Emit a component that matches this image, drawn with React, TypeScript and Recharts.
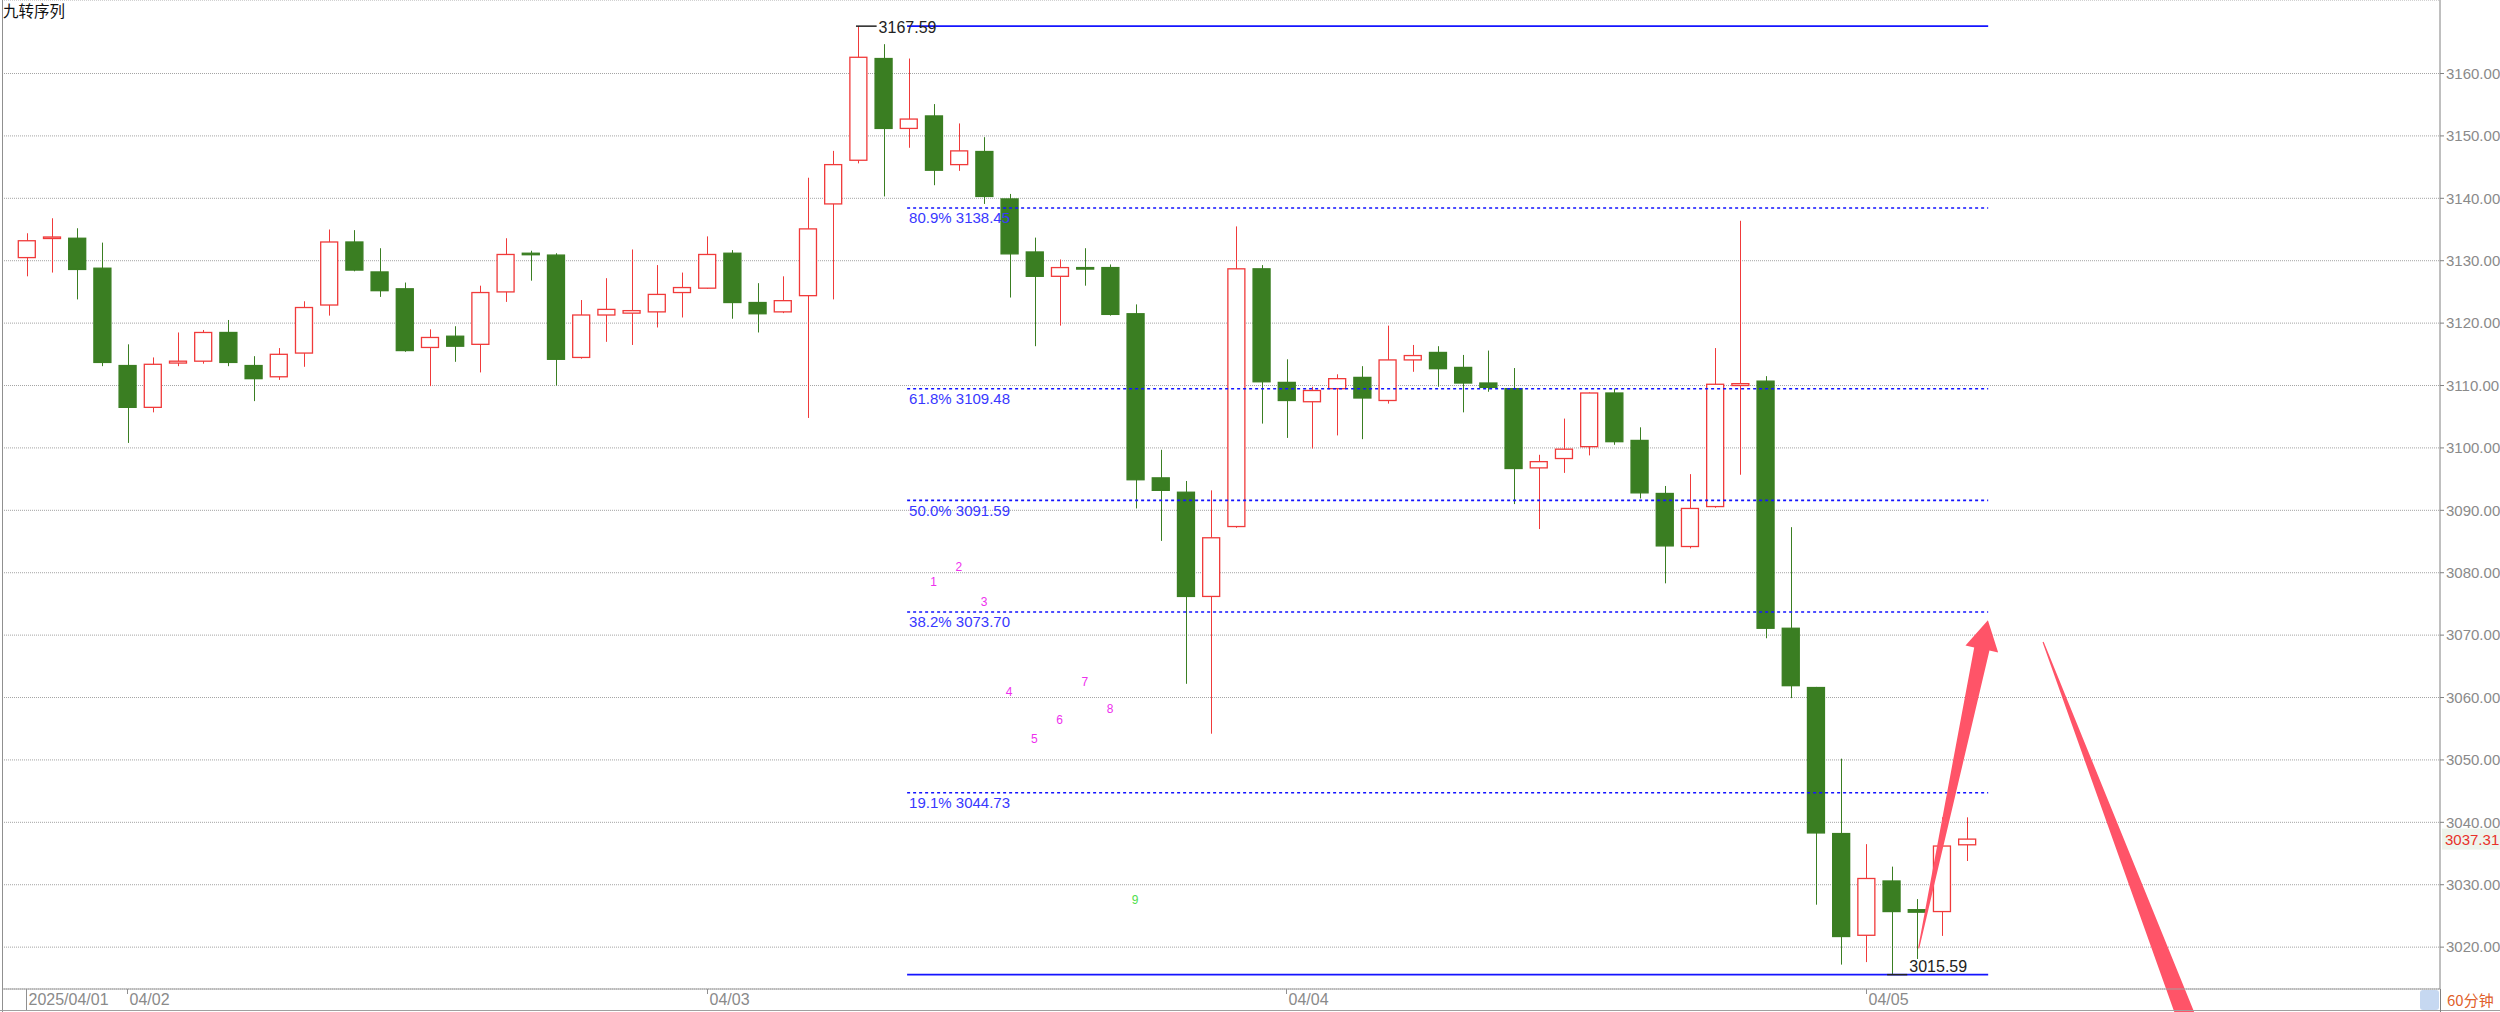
import React from 'react';
import { ComposedChart, Bar, Scatter, XAxis, YAxis, CartesianGrid, ReferenceLine } from 'recharts';

// 60-minute candles
const opens = [
  3130.5, 3133.6, 3133.6, 3128.8, 3113.2, 3106.5, 3113.6, 3113.9, 3118.5, 3113.2,
  3111.4, 3115.2, 3122.9, 3133.0, 3128.2, 3125.5, 3116.1, 3117.9, 3116.6, 3125.0,
  3131.2, 3130.9, 3114.5, 3121.3, 3121.6, 3121.8, 3124.9, 3125.6, 3131.2, 3123.3,
  3121.8, 3124.4, 3139.1, 3146.1, 3162.4, 3151.2, 3153.2, 3145.4, 3147.5, 3139.9,
  3131.4, 3127.5, 3128.9, 3128.9, 3121.5, 3095.2, 3092.9, 3076.2, 3087.4, 3128.7,
  3110.5, 3107.4, 3109.5, 3111.3, 3107.6, 3114.1, 3115.3, 3112.9, 3110.4, 3109.5,
  3096.8, 3098.3, 3100.2, 3108.8, 3101.2, 3092.7, 3084.2, 3090.6, 3110.0, 3110.7,
  3071.1, 3061.6, 3038.2, 3021.9, 3030.6, 3026.0, 3025.7, 3036.4,
];
const highs = [
  3134.4, 3136.8, 3135.2, 3132.9, 3116.6, 3114.5, 3118.5, 3118.9, 3120.5, 3114.7,
  3116.0, 3123.5, 3135.0, 3134.9, 3132.0, 3126.5, 3119.0, 3119.5, 3126.0, 3133.6,
  3131.6, 3131.2, 3123.7, 3127.2, 3131.8, 3129.3, 3128.1, 3133.9, 3131.7, 3126.4,
  3127.5, 3143.3, 3147.6, 3167.59, 3164.7, 3162.4, 3155.1, 3152.0, 3149.8, 3140.7,
  3133.7, 3130.2, 3132.0, 3129.4, 3123.0, 3099.7, 3094.7, 3093.2, 3135.5, 3129.3,
  3114.2, 3109.8, 3111.8, 3113.1, 3119.6, 3116.5, 3116.3, 3114.9, 3115.6, 3112.8,
  3098.9, 3104.7, 3108.9, 3109.5, 3103.3, 3093.9, 3095.8, 3116.0, 3136.4, 3111.5,
  3087.3, 3061.7, 3050.2, 3036.5, 3032.9, 3027.7, 3040.8, 3040.8,
];
const lows = [
  3127.5, 3128.1, 3123.8, 3113.1, 3100.8, 3105.7, 3113.1, 3113.5, 3113.1, 3107.5,
  3110.9, 3113.0, 3121.2, 3128.3, 3124.2, 3115.4, 3109.9, 3113.8, 3112.1, 3123.4,
  3126.8, 3110.0, 3114.3, 3117.0, 3116.5, 3119.3, 3120.9, 3125.5, 3120.7, 3118.5,
  3121.6, 3104.8, 3123.8, 3145.6, 3140.3, 3148.1, 3142.1, 3144.4, 3139.1, 3124.1,
  3116.3, 3119.6, 3126.0, 3121.2, 3090.3, 3085.1, 3062.2, 3054.2, 3087.2, 3103.9,
  3101.6, 3099.9, 3102.0, 3101.4, 3107.1, 3112.2, 3109.8, 3105.7, 3109.0, 3091.0,
  3087.0, 3096.0, 3098.8, 3100.5, 3091.9, 3078.3, 3083.9, 3090.4, 3095.7, 3069.5,
  3059.9, 3026.8, 3017.2, 3017.6, 3015.59, 3018.1, 3021.8, 3033.8,
];
const closes = [
  3133.2, 3133.8, 3128.6, 3113.7, 3106.5, 3113.4, 3113.9, 3118.5, 3113.7, 3111.1,
  3115.0, 3122.5, 3133.0, 3128.5, 3125.2, 3115.6, 3117.7, 3116.3, 3124.9, 3131.0,
  3131.0, 3114.2, 3121.3, 3122.2, 3122.0, 3124.6, 3125.7, 3131.0, 3123.3, 3121.5,
  3123.6, 3135.1, 3145.4, 3162.6, 3151.2, 3152.7, 3144.5, 3147.6, 3140.3, 3131.1,
  3127.5, 3128.9, 3128.7, 3121.4, 3094.9, 3093.2, 3076.2, 3085.6, 3128.7, 3110.6,
  3107.6, 3109.2, 3111.1, 3108.0, 3114.1, 3114.8, 3112.7, 3110.4, 3109.7, 3096.7,
  3097.8, 3099.8, 3108.8, 3101.0, 3092.8, 3084.3, 3090.3, 3110.2, 3110.3, 3071.1,
  3061.9, 3038.3, 3021.7, 3031.0, 3025.7, 3025.6, 3036.2, 3037.31,
];

const dayTicks = [0, 4, 27, 50, 73];
const dayLabels = ['2025/04/01', '04/02', '04/03', '04/04', '04/05'];
const priceTicks = [3020, 3030, 3040, 3050, 3060, 3070, 3080, 3090, 3100, 3110, 3120, 3130, 3140, 3150, 3160];

const swingHigh = 3167.59;
const swingHighBar = 33;
const swingLow = 3015.59;
const swingLowBar = 74;
const fibNames = ['80.9%', '61.8%', '50.0%', '38.2%', '19.1%'];
const fibLevels = [3138.45, 3109.48, 3091.59, 3073.7, 3044.73];

// 九转序列 counts
const seqBars = [36, 37, 38, 39, 40, 41, 42, 43, 44];
const seqPrices = [3078.6, 3081.0, 3075.4, 3061.0, 3053.4, 3056.5, 3062.6, 3058.3, 3027.7];
const seqLabels = ['1', '2', '3', '4', '5', '6', '7', '8', '9'];

const lastPrice = 3037.31;

const candles = opens.map((o, i) => ({
  i,
  open: o,
  high: highs[i],
  low: lows[i],
  close: closes[i],
  range: [lows[i], highs[i]],
}));
const seqData = seqBars.map((b, k) => ({ i: b, price: seqPrices[k], text: seqLabels[k] }));

const X_MIN = -0.968;
const X_MAX = 95.78;
const Y_MIN = 3013.29;
const Y_MAX = 3171.78;
const FIB_START = 34.95;
const FIB_END = 77.85;

const RED = '#f03a3a';
const GREEN = '#3a7e22';
const ARROW = '#ff5468';
const FONT = '"Liberation Sans", Arial, sans-serif';
const CJK = '"Noto Sans CJK SC", sans-serif';

function Candle(props: any) {
  const { x, y, width, height } = props;
  const d = props.payload ?? props;
  const up = d.close >= d.open;
  const color = up ? RED : GREEN;
  const k = height / (d.high - d.low || 1);
  const py = (p: number) => y + (d.high - p) * k;
  const top = py(Math.max(d.open, d.close));
  const bot = py(Math.min(d.open, d.close));
  const cx = Math.round(x + width / 2) + 0.5;
  return (
    <g>
      <line x1={cx} x2={cx} y1={y} y2={y + height} stroke={color} strokeWidth={1} />
      <rect
        x={x + 0.5}
        y={top}
        width={width - 1}
        height={Math.max(bot - top, 1.5)}
        fill={up ? '#ffffff' : color}
        stroke={color}
        strokeWidth={1.3}
      />
    </g>
  );
}

function SeqLabel(props: any) {
  const { cx, cy, payload } = props;
  return (
    <text x={cx} y={cy + 4.5} textAnchor="middle" fontSize={12} fontFamily={FONT}
      fill={payload.text === '9' ? '#4ee04e' : '#ee30ee'}>
      {payload.text}
    </text>
  );
}

function DayTick(props: any) {
  const { x, y, payload } = props;
  const idx = dayTicks.indexOf(payload.value);
  const px = Math.round(x) + 0.5;
  return (
    <g>
      <line x1={px} x2={px} y1={y} y2={y + (idx === 0 ? 22 : 5)} stroke="#909090" />
      <text x={px + 2} y={y + 16} fontSize={16} fontFamily={FONT} fill="#8a8a8a">
        {dayLabels[idx]}
      </text>
    </g>
  );
}

const fibShape = (text: string) => (p: any) => (
  <g>
    <line x1={p.x1} y1={p.y1} x2={p.x2} y2={p.y2} stroke="#1414ff" strokeWidth={1.6} strokeDasharray="3 3" />
    <text x={Math.min(p.x1, p.x2) + 2} y={p.y1 + 15.4} fontSize={15} fontFamily={FONT} fill="#3838ff">{text}</text>
  </g>
);

const swingLine = (p: any) => (
  <line x1={p.x1} y1={p.y1} x2={p.x2} y2={p.y2} stroke="#1414ff" strokeWidth={1.6} />
);

const swingTag = (text: string, dy: number) => (p: any) => (
  <g>
    <line x1={p.x1} y1={p.y1} x2={p.x2} y2={p.y2} stroke="#222" strokeWidth={1.5} />
    <text x={Math.max(p.x1, p.x2) + 2} y={p.y1 + dy} fontSize={16} fontFamily={FONT} fill="#222">{text}</text>
  </g>
);

const lastTag = (p: any) => {
  const right = Math.max(p.x1, p.x2);
  return (
    <g>
      <rect x={right + 2} y={p.y1 - 10.5} width={58} height={21} fill="#eef4ec" />
      <text x={right + 5} y={p.y1 + 5.5} fontSize={15} fontFamily={FONT} fill="#e8322a">{lastPrice.toFixed(2)}</text>
    </g>
  );
};

// tapered arrow from (x1,y1) tail to (x2,y2) tip
const arrowShape = (shaft: number, headW: number, headL: number) => (p: any) => {
  const dx = p.x2 - p.x1;
  const dy = p.y2 - p.y1;
  const len = Math.hypot(dx, dy);
  const ux = dx / len;
  const uy = dy / len;
  const nx = -uy;
  const ny = ux;
  const bx = p.x2 - ux * headL;
  const by = p.y2 - uy * headL;
  const t = 0.6;
  const pts = [
    [p.x1 + nx * t, p.y1 + ny * t],
    [bx + nx * shaft, by + ny * shaft],
    [bx + nx * headW, by + ny * headW],
    [p.x2, p.y2],
    [bx - nx * headW, by - ny * headW],
    [bx - nx * shaft, by - ny * shaft],
    [p.x1 - nx * t, p.y1 - ny * t],
  ];
  return <polygon points={pts.map((q) => q.join(',')).join(' ')} fill={ARROW} />;
};

export default function App() {
  return (
    <div style={{ position: 'absolute', left: 0, top: 0, width: 2500, height: 1012, overflow: 'hidden', background: '#fff' }}>
      <ComposedChart width={2500} height={1012} data={candles} margin={{ top: 0, right: 0, bottom: 0, left: 2 }}>
        <CartesianGrid vertical={false} stroke="#a4a4a4" strokeDasharray="1 1" />
        <XAxis
          dataKey="i"
          type="number"
          domain={[X_MIN, X_MAX]}
          allowDataOverflow
          ticks={dayTicks}
          interval={0}
          height={23}
          tickLine={false}
          tickSize={0}
          tickMargin={0}
          axisLine={{ stroke: '#a0a0a0' }}
          tick={(p: any) => <DayTick {...p} />}
        />
        <YAxis
          type="number"
          orientation="right"
          width={60}
          domain={[Y_MIN, Y_MAX]}
          allowDataOverflow
          ticks={priceTicks}
          interval={0}
          tickFormatter={(v: number) => v.toFixed(2)}
          tick={{ fill: '#8a8a8a', fontSize: 15, fontFamily: FONT }}
          tickSize={4}
          tickMargin={2}
          axisLine={{ stroke: '#808080' }}
          tickLine={{ stroke: '#808080' }}
        />
        <Bar dataKey="range" barSize={18} shape={(p: any) => <Candle {...p} />} isAnimationActive={false} />
        {fibLevels.map((lvl, k) => (
          <ReferenceLine
            key={lvl}
            segment={[{ x: FIB_START, y: lvl }, { x: FIB_END, y: lvl }]}
            ifOverflow="visible"
            shape={fibShape(`${fibNames[k]} ${lvl.toFixed(2)}`)}
          />
        ))}
        <ReferenceLine segment={[{ x: FIB_START, y: swingHigh }, { x: FIB_END, y: swingHigh }]} ifOverflow="visible" shape={swingLine} />
        <ReferenceLine segment={[{ x: FIB_START, y: swingLow }, { x: FIB_END, y: swingLow }]} ifOverflow="visible" shape={swingLine} />
        <ReferenceLine
          segment={[{ x: swingHighBar - 0.08, y: swingHigh }, { x: swingHighBar + 0.74, y: swingHigh }]}
          ifOverflow="visible"
          shape={swingTag(swingHigh.toFixed(2), 6.5)}
        />
        <ReferenceLine
          segment={[{ x: swingLowBar - 0.16, y: swingLow }, { x: swingLowBar + 0.64, y: swingLow }]}
          ifOverflow="visible"
          shape={swingTag(swingLow.toFixed(2), -3)}
        />
        <ReferenceLine y={lastPrice} ifOverflow="visible" shape={lastTag} />
        <Scatter data={seqData} dataKey="price" shape={(p: any) => <SeqLabel {...p} />} isAnimationActive={false} />
        <ReferenceLine
          segment={[{ x: 75.09, y: 3019.8 }, { x: 77.84, y: 3072.4 }]}
          ifOverflow="visible"
          shape={arrowShape(7.8, 16.7, 29.5)}
        />
        <ReferenceLine
          segment={[{ x: 80.03, y: 3068.9 }, { x: 86.58, y: 2999.5 }]}
          ifOverflow="visible"
          shape={arrowShape(10.1, 20, 30)}
        />
      </ComposedChart>
      <div style={{ position: 'absolute', left: 3, top: 0, fontFamily: CJK, fontSize: 15.5, lineHeight: '21px', color: '#111' }}>九转序列</div>
      <div style={{ position: 'absolute', left: 2, top: 0, width: 1, height: 1012, background: '#909090' }} />
      <div style={{ position: 'absolute', left: 0, top: 1010, width: 2500, height: 1, background: '#a0a0a0' }} />
      <div style={{ position: 'absolute', left: 2440, top: 989, width: 1, height: 23, background: '#808080' }} />
      <div style={{ position: 'absolute', left: 2420, top: 990, width: 19, height: 20, borderRadius: 3, background: '#c6d8f1' }} />
      <div style={{ position: 'absolute', left: 2447, top: 990, fontFamily: CJK, fontSize: 15, lineHeight: '20px', color: '#e0602a' }}>60分钟</div>
    </div>
  );
}
